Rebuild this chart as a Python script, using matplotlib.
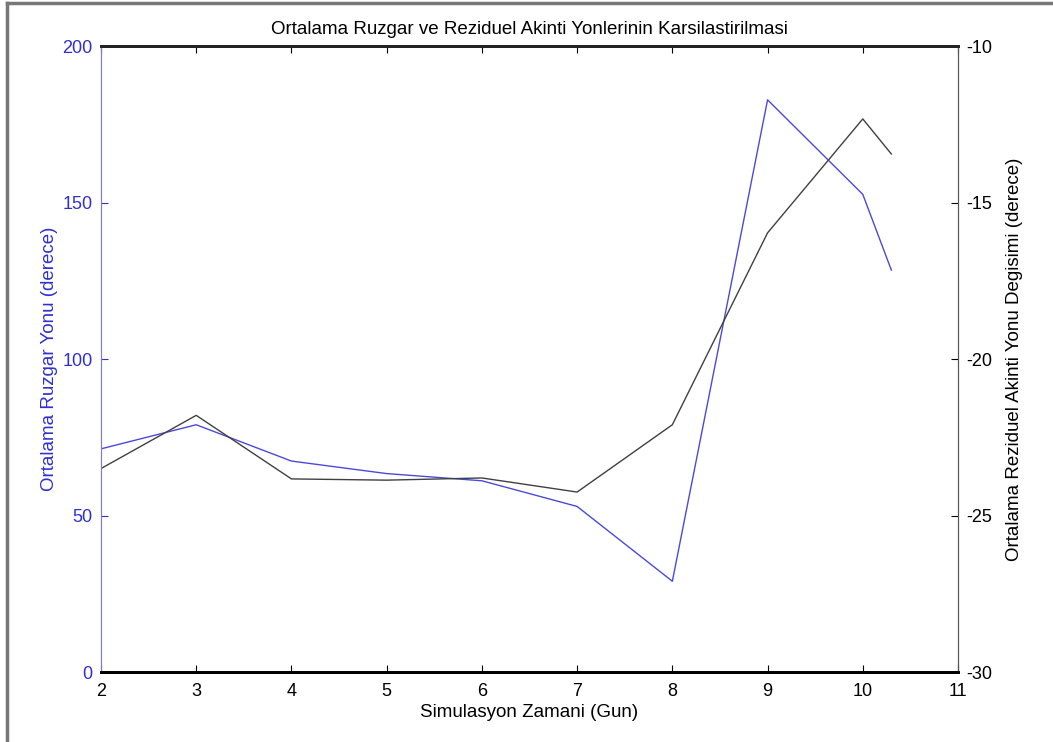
import matplotlib.pyplot as plt
from matplotlib.lines import Line2D

plt.rcParams['font.family'] = ['Liberation Sans', 'DejaVu Sans']
plt.rcParams['axes.unicode_minus'] = False

# simulation days
gun = [2, 3, 4, 5, 6, 7, 8, 9, 10, 10.3]
# mean wind direction (deg)
ruzgar = [71.3, 79.0, 67.4, 63.4, 61.1, 52.9, 29.0, 182.8, 152.6, 128.4]
# residual current direction change (deg)
akinti = [-23.5, -21.8, -23.83, -23.87, -23.8, -24.25, -22.1, -15.97, -12.33, -13.45]

blue = '#3030d0'

fig = plt.figure(figsize=(10.53, 7.42), dpi=100)
ax = fig.add_axes([0.0959, 0.0943, 0.8139, 0.8437])
ax2 = ax.twinx()

ax.plot(gun, ruzgar, color='#4a4ad8', lw=1.0)
ax2.plot(gun, akinti, color='#404040', lw=1.0)

ax.set_xlim(2, 11)
ax.set_ylim(0, 200)
ax2.set_ylim(-30, -10)
ax.set_xticks(range(2, 12))
ax.set_yticks([0, 50, 100, 150, 200])
ax2.set_yticks([-30, -25, -20, -15, -10])

ax.tick_params(axis='x', direction='in', top=True, length=5, labelsize=13, pad=8)
ax.tick_params(axis='y', direction='in', length=5, labelsize=13, colors=blue, pad=6)
ax2.tick_params(axis='y', direction='in', length=5, labelsize=13, pad=6)

for a in (ax, ax2):
    a.spines['top'].set_linewidth(2)
    a.spines['bottom'].set_linewidth(2)
    a.spines['top'].set_color('#222222')
    a.spines['bottom'].set_color('black')
    a.spines['right'].set_color('#555555')
ax2.spines['left'].set_color('#8080c0')
ax.spines['left'].set_color('#8080c0')

ax.set_xlabel('Simulasyon Zamani (Gun)', fontsize=13.5, labelpad=3)
ax.set_ylabel('Ortalama Ruzgar Yonu (derece)', fontsize=13.5, color=blue, labelpad=3)
ax2.set_ylabel('Ortalama Reziduel Akinti Yonu Degisimi (derece)', fontsize=13.5, labelpad=10)
ax.set_title('Ortalama Ruzgar ve Reziduel Akinti Yonlerinin Karsilastirilmasi', fontsize=13.5, pad=9)

# grey frame edges of the original screenshot
fig.add_artist(Line2D([0.0066, 0.0066], [0, 0.996], transform=fig.transFigure, color='#777777', lw=2.5))
fig.add_artist(Line2D([0.0066, 1.0], [0.996, 0.996], transform=fig.transFigure, color='#777777', lw=2.5))

fig.savefig('out.png', dpi=100)
